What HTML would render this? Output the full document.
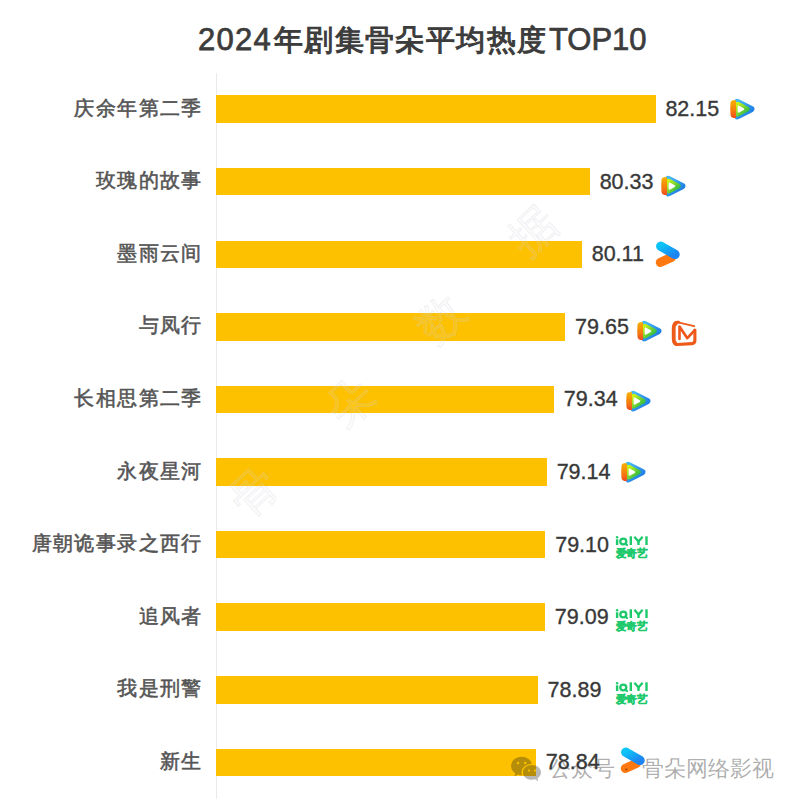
<!DOCTYPE html>
<html><head><meta charset="utf-8"><style>
html,body{margin:0;padding:0;background:#fff;}
body{width:800px;height:802px;position:relative;overflow:hidden;font-family:"Liberation Sans",sans-serif;}
.title{position:absolute;left:198px;top:18px;white-space:nowrap;font-size:31px;font-weight:normal;-webkit-text-stroke:1.1px #3c3c3c;color:#3c3c3c;line-height:44px;}
.axis{position:absolute;left:215.8px;top:73px;width:1.4px;height:726px;background:#eaeaea;}
.bar{position:absolute;left:216.2px;background:#fdc100;}
.lab{position:absolute;right:597.2px;font-size:20px;line-height:30px;color:#555;white-space:nowrap;-webkit-text-stroke:0.55px #555;letter-spacing:1.4px;}
.val{position:absolute;font-size:21.5px;line-height:30px;color:#383838;white-space:nowrap;-webkit-text-stroke:0.35px #383838;}
.ic{position:absolute;}
.wm{position:absolute;font-size:46px;color:rgba(230,230,235,0.12);-webkit-text-stroke:0.5px rgba(200,200,210,0.45);font-weight:100;line-height:46px;}
.ft{position:absolute;font-size:22px;line-height:30px;color:rgba(60,60,60,0.42);white-space:nowrap;}
</style></head><body>
<svg width="0" height="0" style="position:absolute">
<defs>
<linearGradient id="txb" x1="0" y1="0" x2="1" y2="1"><stop offset="0" stop-color="#46b8f4"/><stop offset="1" stop-color="#1a76e4"/></linearGradient>
<linearGradient id="txo" x1="0" y1="0" x2="0" y2="1"><stop offset="0" stop-color="#f8b000"/><stop offset="0.6" stop-color="#f57a10"/><stop offset="1" stop-color="#ef4a1e"/></linearGradient>
<linearGradient id="txg" x1="0" y1="0" x2="1" y2="1"><stop offset="0" stop-color="#c6f21a"/><stop offset="1" stop-color="#20b44c"/></linearGradient>
<linearGradient id="ykb" x1="0" y1="0" x2="1" y2="1"><stop offset="0" stop-color="#0cc2f6"/><stop offset="1" stop-color="#1e84f2"/></linearGradient>
</defs></svg>
<div class="title"><span style="letter-spacing:1.3px;-webkit-text-stroke-width:0.75px">2024</span><span style="font-size:29px;letter-spacing:1.45px;margin-left:1.5px;position:relative;top:-0.5px">年剧集骨朵平均热度</span><span style="margin-left:1.2px;-webkit-text-stroke-width:0.7px">TOP10</span></div>
<div class="axis"></div>
<div class="lab" style="top:92.75px">庆余年第二季</div>
<div class="bar" style="top:95.40px;width:439.39px;height:27.5px"></div>
<div class="val" style="left:665.39px;top:94.05px">82.15</div>
<div class="lab" style="top:165.33px">玫瑰的故事</div>
<div class="bar" style="top:167.98px;width:373.63px;height:27.5px"></div>
<div class="val" style="left:599.63px;top:166.63px">80.33</div>
<div class="lab" style="top:237.91px">墨雨云间</div>
<div class="bar" style="top:240.56px;width:365.69px;height:27.5px"></div>
<div class="val" style="left:591.69px;top:239.21px">80.11</div>
<div class="lab" style="top:310.49px">与凤行</div>
<div class="bar" style="top:313.14px;width:349.07px;height:27.5px"></div>
<div class="val" style="left:575.07px;top:311.79px">79.65</div>
<div class="lab" style="top:383.07px">长相思第二季</div>
<div class="bar" style="top:385.72px;width:337.87px;height:27.5px"></div>
<div class="val" style="left:563.87px;top:384.37px">79.34</div>
<div class="lab" style="top:455.65px">永夜星河</div>
<div class="bar" style="top:458.30px;width:330.64px;height:27.5px"></div>
<div class="val" style="left:556.64px;top:456.95px">79.14</div>
<div class="lab" style="top:528.23px">唐朝诡事录之西行</div>
<div class="bar" style="top:530.88px;width:329.19px;height:27.5px"></div>
<div class="val" style="left:555.19px;top:529.53px">79.10</div>
<div class="lab" style="top:600.81px">追风者</div>
<div class="bar" style="top:603.46px;width:328.83px;height:27.5px"></div>
<div class="val" style="left:554.83px;top:602.11px">79.09</div>
<div class="lab" style="top:673.39px">我是刑警</div>
<div class="bar" style="top:676.04px;width:321.61px;height:27.5px"></div>
<div class="val" style="left:547.61px;top:674.69px">78.89</div>
<div class="lab" style="top:745.97px">新生</div>
<div class="bar" style="top:748.62px;width:319.80px;height:27.5px"></div>
<div class="val" style="left:545.80px;top:747.27px">78.84</div>
<svg class="ic" style="left:729.80px;top:97.68px" width="25.75" height="23.7" viewBox="0 0 25 23">
<path d="M7.2 3.9 L20.6 10.8 L7.2 17.7 Z" fill="url(#txb)" stroke="url(#txb)" stroke-width="6.2" stroke-linejoin="round"/>
<path d="M7.5 5.9 L16.9 10.8 L7.5 15.7 Z" fill="url(#txg)" stroke="url(#txg)" stroke-width="4.6" stroke-linejoin="round"/>
<path d="M5.8 2.1 L3.2 2.1 Q0.7 2.3 0.5 5 L0.2 10.8 L0.5 16.6 Q0.7 19.2 3.2 19.4 L5.8 19.5 Z" fill="url(#txo)"/>
<path d="M8.4 8.4 L12.8 10.8 L8.4 13.2 Z" fill="#fff" stroke="#fff" stroke-width="2" stroke-linejoin="round"/>
</svg>
<svg class="ic" style="left:661.15px;top:174.88px" width="25.75" height="23.7" viewBox="0 0 25 23">
<path d="M7.2 3.9 L20.6 10.8 L7.2 17.7 Z" fill="url(#txb)" stroke="url(#txb)" stroke-width="6.2" stroke-linejoin="round"/>
<path d="M7.5 5.9 L16.9 10.8 L7.5 15.7 Z" fill="url(#txg)" stroke="url(#txg)" stroke-width="4.6" stroke-linejoin="round"/>
<path d="M5.8 2.1 L3.2 2.1 Q0.7 2.3 0.5 5 L0.2 10.8 L0.5 16.6 Q0.7 19.2 3.2 19.4 L5.8 19.5 Z" fill="url(#txo)"/>
<path d="M8.4 8.4 L12.8 10.8 L8.4 13.2 Z" fill="#fff" stroke="#fff" stroke-width="2" stroke-linejoin="round"/>
</svg>
<svg class="ic" style="left:649.70px;top:239.60px" width="30" height="30" viewBox="0 0 30 30">
<line x1="10.4" y1="22.4" x2="21.5" y2="17.4" stroke="#ff7810" stroke-width="9.2" stroke-linecap="round"/>
<line x1="10.8" y1="6.2" x2="25.0" y2="14.4" stroke="url(#ykb)" stroke-width="9.4" stroke-linecap="round"/>

</svg>
<svg class="ic" style="left:637.40px;top:320.13px" width="25.75" height="23.7" viewBox="0 0 25 23">
<path d="M7.2 3.9 L20.6 10.8 L7.2 17.7 Z" fill="url(#txb)" stroke="url(#txb)" stroke-width="6.2" stroke-linejoin="round"/>
<path d="M7.5 5.9 L16.9 10.8 L7.5 15.7 Z" fill="url(#txg)" stroke="url(#txg)" stroke-width="4.6" stroke-linejoin="round"/>
<path d="M5.8 2.1 L3.2 2.1 Q0.7 2.3 0.5 5 L0.2 10.8 L0.5 16.6 Q0.7 19.2 3.2 19.4 L5.8 19.5 Z" fill="url(#txo)"/>
<path d="M8.4 8.4 L12.8 10.8 L8.4 13.2 Z" fill="#fff" stroke="#fff" stroke-width="2" stroke-linejoin="round"/>
</svg>
<svg class="ic" style="left:666.00px;top:316.00px" width="34" height="34" viewBox="0 0 34 34">
<path d="M28.2 10.2 L11 6.1" fill="none" stroke="#ee5c1c" stroke-width="1.8" stroke-linecap="round"/>
<path d="M12.5 6.3 Q8 5.5 7.8 10.5 L7.8 24.5 Q7.8 28.6 11.2 28.5 L26 27.6 Q28.9 27.4 28.9 24.5 L28.9 14.2" fill="none" stroke="#ee5a1a" stroke-width="3.1" stroke-linecap="round" stroke-linejoin="round"/>
<path d="M9.6 8 Q7.6 9 7.6 12 L7.6 23 Q7.6 26 9.6 27.5" fill="none" stroke="#ee5a1a" stroke-width="3.6" stroke-linecap="round"/>
<path d="M13.5 23 L13.5 10.6 L21.3 22.2 L28.9 14" fill="none" stroke="#f0561a" stroke-width="2.6" stroke-linecap="round" stroke-linejoin="round"/>
</svg>
<svg class="ic" style="left:626.15px;top:390.13px" width="25.75" height="23.7" viewBox="0 0 25 23">
<path d="M7.2 3.9 L20.6 10.8 L7.2 17.7 Z" fill="url(#txb)" stroke="url(#txb)" stroke-width="6.2" stroke-linejoin="round"/>
<path d="M7.5 5.9 L16.9 10.8 L7.5 15.7 Z" fill="url(#txg)" stroke="url(#txg)" stroke-width="4.6" stroke-linejoin="round"/>
<path d="M5.8 2.1 L3.2 2.1 Q0.7 2.3 0.5 5 L0.2 10.8 L0.5 16.6 Q0.7 19.2 3.2 19.4 L5.8 19.5 Z" fill="url(#txo)"/>
<path d="M8.4 8.4 L12.8 10.8 L8.4 13.2 Z" fill="#fff" stroke="#fff" stroke-width="2" stroke-linejoin="round"/>
</svg>
<svg class="ic" style="left:620.65px;top:460.63px" width="25.75" height="23.7" viewBox="0 0 25 23">
<path d="M7.2 3.9 L20.6 10.8 L7.2 17.7 Z" fill="url(#txb)" stroke="url(#txb)" stroke-width="6.2" stroke-linejoin="round"/>
<path d="M7.5 5.9 L16.9 10.8 L7.5 15.7 Z" fill="url(#txg)" stroke="url(#txg)" stroke-width="4.6" stroke-linejoin="round"/>
<path d="M5.8 2.1 L3.2 2.1 Q0.7 2.3 0.5 5 L0.2 10.8 L0.5 16.6 Q0.7 19.2 3.2 19.4 L5.8 19.5 Z" fill="url(#txo)"/>
<path d="M8.4 8.4 L12.8 10.8 L8.4 13.2 Z" fill="#fff" stroke="#fff" stroke-width="2" stroke-linejoin="round"/>
</svg>
<svg class="ic" style="left:614.90px;top:534.88px" width="34" height="24" viewBox="0 0 34 24">
<g fill="#1ec96c">
<rect x="0.9" y="4.3" width="2.4" height="5.7"/><circle cx="2.1" cy="2.2" r="1.25"/>
<rect x="14.6" y="1.3" width="2.4" height="8.7"/>
<rect x="30.3" y="1.3" width="2.4" height="8.7"/>
<rect x="22.3" y="5.8" width="2.4" height="4.2"/>
</g>
<g fill="none" stroke="#1ec96c" stroke-width="2.3">
<ellipse cx="8.3" cy="6.5" rx="3.0" ry="2.9"/>
<path d="M10.4 8.6 L12 10" stroke-linecap="round"/>
<path d="M19.4 1.8 L23.5 6.4 L27.6 1.8"/>
</g>
<text x="0.5" y="21.5" textLength="32" lengthAdjust="spacingAndGlyphs" font-family="Liberation Sans" font-weight="bold" font-size="10.9" fill="#1ec96c" stroke="#1ec96c" stroke-width="0.45">爱奇艺</text>
</svg>
<svg class="ic" style="left:614.90px;top:607.96px" width="34" height="24" viewBox="0 0 34 24">
<g fill="#1ec96c">
<rect x="0.9" y="4.3" width="2.4" height="5.7"/><circle cx="2.1" cy="2.2" r="1.25"/>
<rect x="14.6" y="1.3" width="2.4" height="8.7"/>
<rect x="30.3" y="1.3" width="2.4" height="8.7"/>
<rect x="22.3" y="5.8" width="2.4" height="4.2"/>
</g>
<g fill="none" stroke="#1ec96c" stroke-width="2.3">
<ellipse cx="8.3" cy="6.5" rx="3.0" ry="2.9"/>
<path d="M10.4 8.6 L12 10" stroke-linecap="round"/>
<path d="M19.4 1.8 L23.5 6.4 L27.6 1.8"/>
</g>
<text x="0.5" y="21.5" textLength="32" lengthAdjust="spacingAndGlyphs" font-family="Liberation Sans" font-weight="bold" font-size="10.9" fill="#1ec96c" stroke="#1ec96c" stroke-width="0.45">爱奇艺</text>
</svg>
<svg class="ic" style="left:614.90px;top:681.04px" width="34" height="24" viewBox="0 0 34 24">
<g fill="#1ec96c">
<rect x="0.9" y="4.3" width="2.4" height="5.7"/><circle cx="2.1" cy="2.2" r="1.25"/>
<rect x="14.6" y="1.3" width="2.4" height="8.7"/>
<rect x="30.3" y="1.3" width="2.4" height="8.7"/>
<rect x="22.3" y="5.8" width="2.4" height="4.2"/>
</g>
<g fill="none" stroke="#1ec96c" stroke-width="2.3">
<ellipse cx="8.3" cy="6.5" rx="3.0" ry="2.9"/>
<path d="M10.4 8.6 L12 10" stroke-linecap="round"/>
<path d="M19.4 1.8 L23.5 6.4 L27.6 1.8"/>
</g>
<text x="0.5" y="21.5" textLength="32" lengthAdjust="spacingAndGlyphs" font-family="Liberation Sans" font-weight="bold" font-size="10.9" fill="#1ec96c" stroke="#1ec96c" stroke-width="0.45">爱奇艺</text>
</svg>
<div class="wm" style="left:231px;top:469px;transform:rotate(-43deg)">骨</div>
<div class="wm" style="left:327px;top:379px;transform:rotate(-43deg)">朵</div>
<div class="wm" style="left:418px;top:296px;transform:rotate(-43deg)">数</div>
<div class="wm" style="left:510px;top:208px;transform:rotate(-43deg)">据</div>
<svg width="800" height="802" style="position:absolute;left:0;top:0">
<defs><mask id="wxm"><rect x="0" y="0" width="800" height="802" fill="#fff"/>
<ellipse cx="531.8" cy="772.4" rx="10.4" ry="8.6" fill="#000"/>
<circle cx="518" cy="763" r="1.2" fill="#000"/><circle cx="525.3" cy="763" r="1.2" fill="#000"/></mask>
<mask id="wxm2"><rect x="0" y="0" width="800" height="802" fill="#fff"/>
<circle cx="529" cy="770.6" r="1.05" fill="#000"/><circle cx="535" cy="770.6" r="1.05" fill="#000"/></mask></defs>
<g fill="rgba(25,25,30,0.31)">
<path mask="url(#wxm)" d="M521.6 756.8 C527.4 756.8 532.1 760.9 532.1 766 C532.1 771.1 527.4 775.2 521.6 775.2 C520.2 775.2 519 775 517.8 774.6 L514.5 776.5 L515.2 773.3 C512.7 771.6 511.1 769 511.1 766 C511.1 760.9 515.8 756.8 521.6 756.8 Z"/>
<path mask="url(#wxm2)" d="M531.8 765 C527 765 523 768.2 523 772.4 C523 776.6 527 779.8 531.8 779.8 C533 779.8 534.1 779.6 535.1 779.3 L538.2 781.2 L537.4 778.2 C539.6 776.8 541 774.8 541 772.4 C541 768.2 537 765 531.8 765 Z"/>
</g>
</svg>
<div class="ft" style="left:549px;top:754px">公众号</div>
<div class="ft" style="left:621px;top:754px">·</div>
<div class="ft" style="left:642px;top:754px">骨朵网络影视</div>
<svg class="ic" style="left:615.20px;top:746.40px" width="30" height="30" viewBox="0 0 30 30">
<line x1="10.4" y1="22.4" x2="21.5" y2="17.4" stroke="#ff7810" stroke-width="9.2" stroke-linecap="round"/>
<line x1="10.8" y1="6.2" x2="25.0" y2="14.4" stroke="url(#ykb)" stroke-width="9.4" stroke-linecap="round"/>
<circle cx="11.4" cy="23.5" r="1" fill="#a04000"/>
</svg>
</body></html>
